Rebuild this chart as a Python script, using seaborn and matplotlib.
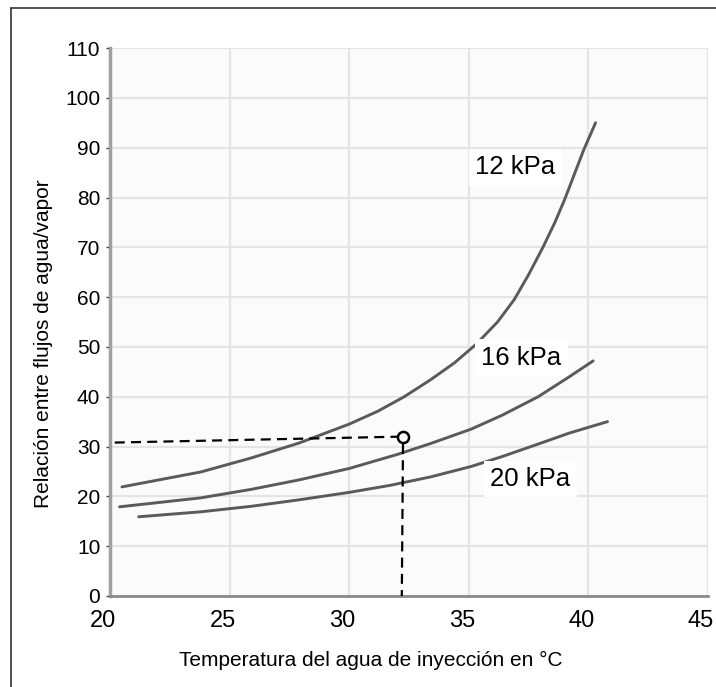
import matplotlib
matplotlib.use("Agg")
import matplotlib.pyplot as plt
import matplotlib.transforms as mtransforms
from matplotlib.lines import Line2D
import seaborn as sns
import pandas as pd

# ---- data ----
temp_12 = [20.5, 23.8, 25.9, 27.9, 30.0, 31.2, 32.3, 33.4, 34.4, 35.3, 36.2, 36.9,
           37.5, 38.1, 38.6, 39.0, 39.4, 39.8, 40.3]
ratio_12 = [21.9, 24.9, 27.7, 30.7, 34.5, 37.1, 40.0, 43.4, 46.8, 50.5, 55.0, 59.5,
            64.5, 70.0, 75.0, 79.5, 84.5, 89.5, 95.0]

temp_16 = [20.4, 23.8, 25.9, 27.9, 30.0, 32.0, 33.4, 35.1, 36.4, 37.9, 39.2, 40.2]
ratio_16 = [17.9, 19.7, 21.4, 23.3, 25.6, 28.4, 30.6, 33.5, 36.3, 40.0, 44.0, 47.2]

temp_20 = [21.2, 23.8, 25.9, 27.9, 30.0, 31.7, 33.4, 35.1, 36.4, 37.9, 39.2, 40.8]
ratio_20 = [15.9, 16.9, 18.0, 19.3, 20.8, 22.2, 23.9, 26.0, 28.0, 30.5, 32.7, 35.0]

series_names = ["12 kPa", "16 kPa", "20 kPa"]
label_pos_x = [36.95, 37.2, 37.57]
label_pos_y = [86.1, 47.8, 23.5]

ref_h_x = [20.2, 32.25]
ref_h_y = [30.8, 32.0]
ref_v_x = [32.25, 32.2]
ref_v_y = [30.5, 0.0]
ref_point_x = [32.25]
ref_point_y = [31.9]

x_ticks = [20, 25, 30, 35, 40, 45]
y_ticks = [0, 10, 20, 30, 40, 50, 60, 70, 80, 90, 100, 110]

xlabel = "Temperatura del agua de inyección en °C"
ylabel = "Relación entre flujos de agua/vapor"

df = pd.concat([
    pd.DataFrame({"temp": temp_12, "ratio": ratio_12, "serie": series_names[0]}),
    pd.DataFrame({"temp": temp_16, "ratio": ratio_16, "serie": series_names[1]}),
    pd.DataFrame({"temp": temp_20, "ratio": ratio_20, "serie": series_names[2]}),
], ignore_index=True)

sns.set_theme(style="whitegrid")
plt.rcParams["font.family"] = ["Liberation Sans", "DejaVu Sans"]

fig = plt.figure(figsize=(7.16, 6.87), dpi=100)
ax = fig.add_axes([0.1536, 0.1325, 0.8352, 0.7975])
ax.set_facecolor("#fbfbfb")

sns.lineplot(data=df, x="temp", y="ratio", hue="serie", units="serie",
             estimator=None, sort=False, palette=["#5a5a5a"] * 3,
             linewidth=2.1, legend=False, ax=ax, solid_joinstyle="round",
             solid_capstyle="round")

# reference dashed lines and point
ax.plot(ref_h_x, ref_h_y, color="black", lw=1.6, dashes=(4.5, 2.8), zorder=4)
ax.plot(ref_v_x, ref_v_y, color="black", lw=1.6, dashes=(4.5, 2.8), zorder=4)
ax.plot(ref_point_x, ref_point_y, marker="o", ms=8, mfc="white", mec="black",
        mew=1.8, ls="none", zorder=5)

for name, lx, ly in zip(series_names, label_pos_x, label_pos_y):
    ax.text(lx, ly, name, fontsize=18.5, color="black", ha="center", va="center",
            bbox=dict(boxstyle="square,pad=0.25", fc="white", ec="none"), zorder=6)

ax.set_xlim(20, 45)
ax.set_ylim(0, 110)
ax.set_xticks(x_ticks)
ax.set_yticks(y_ticks)
ax.set_xticklabels([str(t) for t in x_ticks])
ax.set_yticklabels([str(t) for t in y_ticks])
ax.tick_params(axis="x", labelsize=17, pad=10, length=0, colors="black")
ax.tick_params(axis="y", labelsize=15, pad=4, length=3, width=1, colors="#444",
               labelcolor="black", left=True)
shift = mtransforms.ScaledTranslation(-7 / 100, 0, fig.dpi_scale_trans)
for lbl in ax.get_xticklabels():
    lbl.set_transform(lbl.get_transform() + shift)

ax.grid(True, color="#e4e4e4", linewidth=1.6)
for s in ["top", "right"]:
    ax.spines[s].set_visible(False)
ax.spines["left"].set_color("#a0a0a0")
ax.spines["left"].set_linewidth(2.5)
ax.spines["bottom"].set_color("#8a8a8a")
ax.spines["bottom"].set_linewidth(2.0)

ax.set_xlabel(xlabel, fontsize=15, color="black")
ax.set_ylabel(ylabel, fontsize=15, color="black")
ax.xaxis.set_label_coords(0.436, -0.10)
ax.yaxis.set_label_coords(-0.095, 0.46)

# figure frame (top and left edges visible in the reference)
fig.add_artist(Line2D([11 / 716, 11 / 716], [0, 1 - 8 / 687], transform=fig.transFigure,
                      color="#333333", lw=1.2))
fig.add_artist(Line2D([11 / 716, 1], [1 - 8 / 687, 1 - 8 / 687], transform=fig.transFigure,
                      color="#333333", lw=1.2))

fig.savefig("out.png", dpi=100, facecolor="white")
